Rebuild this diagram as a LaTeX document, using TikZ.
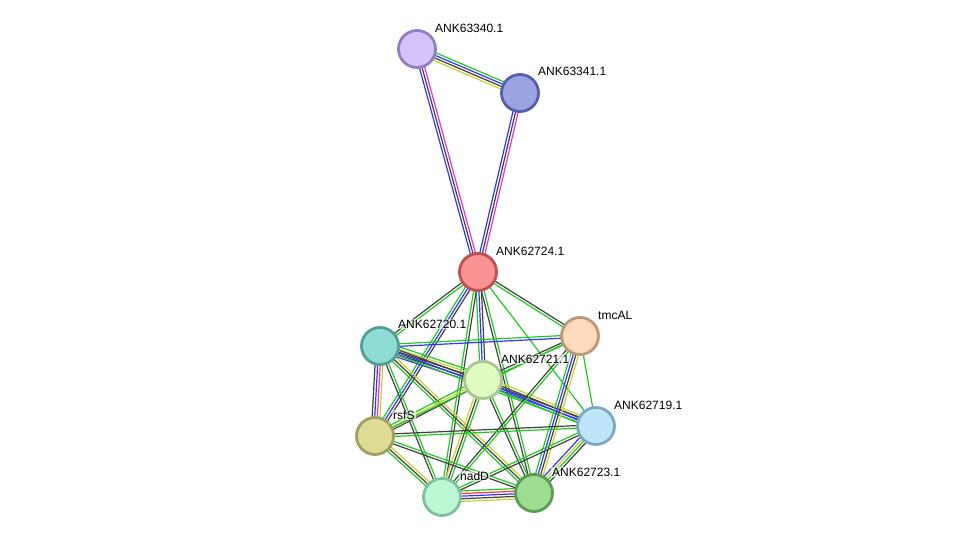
\documentclass[tikz,border=0pt]{standalone}
\usepackage{fontspec}
\setmainfont{Liberation Sans}
\usetikzlibrary{calc,backgrounds}
\definecolor{sgreen}{HTML}{22C822}
\definecolor{sblue}{HTML}{3333FF}
\definecolor{sblack}{HTML}{404040}
\definecolor{smag}{HTML}{DD33DD}
\definecolor{syel}{HTML}{C4D22C}
\definecolor{sred}{HTML}{FF3333}
\newcommand{\stredge}[3]{%
  \foreach \cc [count=\ii] in {#3} {\xdef\nn{\ii}}%
  \foreach \cc [count=\ii] in {#3} {%
    \pgfmathsetmacro\off{(\ii-(\nn+1)/2)*2.6}%
    \draw[color=\cc, line width=1.2pt]
      ($(#1.center)!\off pt!90:(#2.center)$) -- ($(#2.center)!\off pt!-90:(#1.center)$);
  }%
}
\tikzset{
  prot/.style={circle, minimum size=37pt, inner sep=0pt, line width=2.8pt},
  lbl/.style={anchor=west, inner sep=1pt, font=\fontsize{12}{14}\selectfont, fill=white, fill opacity=0.6, text opacity=1}
}
\begin{document}
\begin{tikzpicture}[x=1pt,y=-1pt]
\useasboundingbox (0,0) rectangle (975,543);
% proteins
\node[prot, fill={rgb,255:red,213;green,196;blue,252}, draw={rgb,255:red,144;green,128;blue,192}] (P) at (417,49) {};
\node[prot, fill={rgb,255:red,154;green,164;blue,224}, draw={rgb,255:red,85;green,96;blue,168}] (Q) at (520,93) {};
\node[prot, fill={rgb,255:red,249;green,147;blue,147}, draw={rgb,255:red,192;green,80;blue,80}] (A) at (478,272) {};
\node[prot, fill={rgb,255:red,252;green,218;blue,187}, draw={rgb,255:red,184;green,154;blue,122}] (T) at (580,336) {};
\node[prot, fill={rgb,255:red,142;green,220;blue,211}, draw={rgb,255:red,80;green,160;blue,152}] (C) at (380,346) {};
\node[prot, fill={rgb,255:red,224;green,252;blue,192}, draw={rgb,255:red,168;green,200;blue,144}] (D) at (483,380) {};
\node[prot, fill={rgb,255:red,191;green,229;blue,250}, draw={rgb,255:red,127;green,168;blue,192}] (E) at (596,426) {};
\node[prot, fill={rgb,255:red,222;green,219;blue,150}, draw={rgb,255:red,160;green,160;blue,96}] (R) at (375,436) {};
\node[prot, fill={rgb,255:red,188;green,248;blue,212}, draw={rgb,255:red,128;green,192;blue,160}] (N) at (442,497) {};
\node[prot, fill={rgb,255:red,158;green,220;blue,146}, draw={rgb,255:red,92;green,156;blue,88}] (G) at (534,493) {};
% labels
\node[lbl] (Pl) at ($(P)+(17,-21)$) {ANK63340.1};
\node[lbl] (Ql) at ($(Q)+(17,-22)$) {ANK63341.1};
\node[lbl] (Al) at ($(A)+(17,-21)$) {ANK62724.1};
\node[lbl] (Tl) at ($(T)+(17,-21)$) {tmcAL};
\node[lbl] (Cl) at ($(C)+(17,-22)$) {ANK62720.1};
\node[lbl] (Dl) at ($(D)+(17,-21)$) {ANK62721.1};
\node[lbl] (El) at ($(E)+(17,-21)$) {ANK62719.1};
\node[lbl] (Rl) at ($(R)+(17,-21)$) {rsfS};
\node[lbl] (Nl) at ($(N)+(17,-21)$) {nadD};
\node[lbl] (Gl) at ($(G)+(17,-21)$) {ANK62723.1};
% edges
\begin{pgfonlayer}{background}
\stredge{P}{Q}{syel,sblack,sblue,sgreen}
\stredge{P}{A}{sblue,sblack,smag}
\stredge{Q}{A}{sblue,sblack,smag}
\stredge{A}{T}{sgreen,sblack}
\stredge{A}{C}{sblack,sgreen}
\stredge{A}{R}{sgreen,sblue,sblack}
\stredge{A}{D}{sgreen,sblue,sblack}
\stredge{A}{N}{sgreen,sblack}
\stredge{A}{G}{sblack,sgreen}
\stredge{A}{E}{sgreen}
\stredge{C}{T}{sblue,sgreen}
\stredge{C}{D}{sblue,sblack,sblack,syel,sgreen}
\stredge{C}{R}{sblack,sblue,smag,syel}
\stredge{C}{E}{sgreen,sblue,sblack}
\stredge{C}{G}{sgreen,sblack,syel}
\stredge{C}{N}{sblack,sgreen}
\stredge{D}{T}{sgreen,sblack}
\stredge{D}{E}{sgreen,sblue,sblack,syel}
\stredge{D}{R}{sgreen,syel,sblack}
\stredge{D}{N}{syel,sblack,sgreen}
\stredge{D}{G}{sblack,sgreen}
\stredge{T}{E}{sgreen}
\stredge{T}{G}{sgreen,sblue,sblack,syel}
\stredge{T}{N}{sblack,sgreen}
\stredge{T}{R}{sgreen}
\stredge{E}{R}{sblack,sgreen}
\stredge{E}{N}{sgreen,sblack}
\stredge{E}{G}{sblue,syel,sgreen,sblack}
\stredge{R}{N}{sgreen,sblack,syel}
\stredge{R}{G}{sblack,sgreen}
\stredge{N}{G}{syel,sblack,sblue,sred,sgreen}
\end{pgfonlayer}
\end{tikzpicture}
\end{document}
